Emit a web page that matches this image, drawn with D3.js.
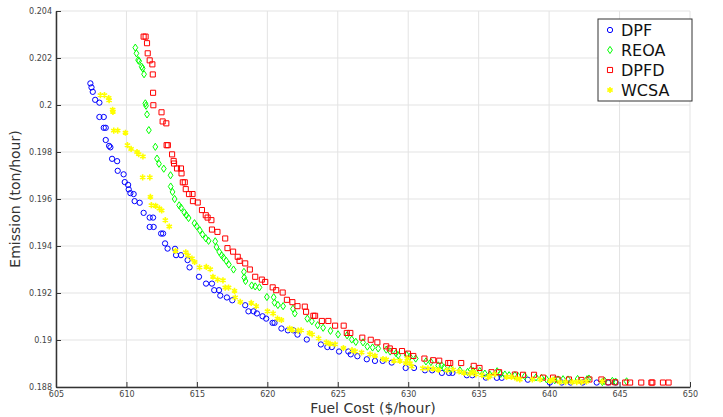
<!DOCTYPE html>
<html>
<head>
<meta charset="utf-8">
<script src="https://cdn.jsdelivr.net/npm/d3@7"></script>
<style>
  body { margin: 0; background: #fff; }
  .chart text { font-family: "DejaVu Sans", sans-serif; }
  .tick text { fill: #444; font-size: 8px; }
</style>
</head>
<body>
<div class="chart"></div>
<script>
// Pareto fronts: fuel cost vs emission

var xTicks = [605, 610, 615, 620, 625, 630, 635, 640, 645, 650];
var yTicks = [0.188, 0.19, 0.192, 0.194, 0.196, 0.198, 0.2, 0.202, 0.204];
var seriesNames = ["DPF", "REOA", "DPFD", "WCSA"];

var dpfCost = [607.44,607.52,607.61,607.78,608.08,608.08,608.39,608.39,608.53,608.53,
  608.77,608.86,608.98,609.34,609.38,609.80,609.88,610.12,610.16,610.28,
  610.51,610.58,610.94,611.22,611.65,611.89,611.65,611.93,612.46,612.60,
  612.74,612.92,613.45,613.52,613.87,614.34,614.48,615.15,615.65,616.07,
  616.23,616.57,616.66,617.13,617.51,618.43,618.66,619.02,619.26,619.66,
  619.92,620.37,620.51,621.00,621.46,621.85,622.14,622.80,623.80,624.26,
  624.58,625.09,625.75,625.92,626.39,627.06,627.64,628.19,628.83,629.82,
  630.41,631.19,631.70,632.39,632.89,633.14,634.16,634.55,635.51,636.29,
  636.64,638.49,640.05,640.90,641.53,642.38,643.38,644.19,644.72];
var dpfEmission = [0.20092,0.20075,0.20056,0.20022,0.20010,0.19949,0.19949,0.19903,0.19903,0.19851,
  0.19826,0.19820,0.19771,0.19761,0.19720,0.19705,0.19672,0.19660,0.19641,0.19625,
  0.19621,0.19591,0.19584,0.19541,0.19521,0.19521,0.19481,0.19481,0.19453,0.19453,
  0.19411,0.19389,0.19388,0.19361,0.19361,0.19340,0.19309,0.19269,0.19240,0.19240,
  0.19212,0.19212,0.19189,0.19181,0.19169,0.19148,0.19122,0.19122,0.19113,0.19101,
  0.19091,0.19073,0.19073,0.19049,0.19041,0.19041,0.19023,0.19002,0.18981,0.18970,
  0.18970,0.18951,0.18951,0.18939,0.18931,0.18918,0.18911,0.18911,0.18904,0.18881,
  0.18881,0.18871,0.18871,0.18860,0.18860,0.18860,0.18850,0.18850,0.18840,0.18839,
  0.18839,0.18831,0.18819,0.18819,0.18819,0.18819,0.18819,0.18819,0.18819];

var reoaCost = [610.63,610.71,610.83,610.90,611.08,611.15,611.25,611.34,611.39,611.46,
  611.59,612.05,612.17,612.31,612.65,613.13,613.14,613.27,613.42,613.74,
  613.88,614.11,614.25,614.41,614.83,614.99,615.21,615.40,615.63,615.83,
  616.30,616.39,616.59,616.76,616.89,617.08,617.27,617.60,618.34,618.36,
  618.45,618.89,619.14,619.44,619.97,620.45,620.51,620.75,621.12,621.82,
  621.95,622.84,623.16,623.57,623.96,624.48,625.02,625.66,625.99,626.28,
  626.79,627.10,627.47,627.87,628.44,628.72,629.13,629.29,629.89,630.12,
  630.53,631.26,631.61,632.13,632.37,632.53,633.01,633.67,634.21,634.45,
  634.61,635.08,635.44,635.79,636.31,636.57,636.86,637.16,637.57,637.80,
  638.27,639.07,639.46,639.81,640.40,640.63,640.99,641.34,642.02,642.69,
  642.83,643.78,643.94,644.49,644.72,645.50];
var reoaEmission = [0.20244,0.20220,0.20191,0.20187,0.20163,0.20156,0.20131,0.20007,0.19997,0.19960,
  0.19893,0.19822,0.19772,0.19750,0.19729,0.19701,0.19653,0.19630,0.19600,0.19573,
  0.19563,0.19543,0.19531,0.19519,0.19497,0.19484,0.19467,0.19449,0.19433,0.19422,
  0.19420,0.19396,0.19375,0.19360,0.19351,0.19337,0.19321,0.19300,0.19290,0.19266,
  0.19251,0.19232,0.19228,0.19224,0.19183,0.19182,0.19159,0.19149,0.19144,0.19133,
  0.19113,0.19091,0.19080,0.19063,0.19052,0.19039,0.19024,0.19020,0.19002,0.18992,
  0.18990,0.18972,0.18968,0.18964,0.18959,0.18951,0.18944,0.18935,0.18936,0.18929,
  0.18921,0.18909,0.18906,0.18892,0.18892,0.18883,0.18878,0.18871,0.18864,0.18874,
  0.18868,0.18868,0.18857,0.18853,0.18867,0.18856,0.18853,0.18850,0.18850,0.18846,
  0.18846,0.18841,0.18838,0.18833,0.18829,0.18832,0.18833,0.18832,0.18834,0.18833,
  0.18836,0.18821,0.18826,0.18826,0.18823,0.18824];

var dpfdCost = [611.22,611.36,611.46,611.51,611.65,611.84,611.87,611.89,611.91,612.49,
  612.57,612.83,612.85,612.94,613.24,613.35,613.38,613.59,613.87,613.91,
  614.00,614.14,614.21,614.44,614.69,614.72,615.06,615.36,615.63,615.76,
  616.03,616.07,616.46,617.01,617.17,617.57,617.90,618.03,618.43,618.76,
  619.14,619.61,619.85,620.38,620.63,621.09,621.39,621.78,622.14,622.66,
  622.75,623.27,623.39,623.87,624.33,624.81,625.42,625.64,625.89,626.74,
  627.34,627.81,628.44,628.69,628.98,629.56,629.98,630.36,631.15,631.77,
  632.20,632.84,632.98,633.76,634.65,635.06,635.91,636.45,637.57,638.15,
  638.93,639.57,640.28,640.61,641.41,642.29,642.86,643.71,644.21,644.69,
  645.40,645.75,646.54,647.26,647.33,648.08,648.48];
var dpfdEmission = [0.20291,0.20291,0.20263,0.20220,0.20190,0.20173,0.20130,0.20052,0.19999,0.19969,
  0.19930,0.19922,0.19829,0.19829,0.19790,0.19762,0.19751,0.19730,0.19730,0.19709,
  0.19671,0.19671,0.19642,0.19621,0.19621,0.19591,0.19585,0.19553,0.19531,0.19521,
  0.19510,0.19470,0.19460,0.19432,0.19391,0.19376,0.19354,0.19337,0.19326,0.19300,
  0.19269,0.19257,0.19247,0.19224,0.19212,0.19202,0.19171,0.19161,0.19144,0.19142,
  0.19120,0.19103,0.19103,0.19081,0.19081,0.19061,0.19061,0.19030,0.19030,0.19010,
  0.19001,0.18990,0.18973,0.18964,0.18953,0.18953,0.18942,0.18932,0.18921,0.18914,
  0.18912,0.18902,0.18902,0.18902,0.18890,0.18881,0.18863,0.18863,0.18853,0.18852,
  0.18852,0.18840,0.18840,0.18832,0.18832,0.18830,0.18832,0.18832,0.18820,0.18820,
  0.18819,0.18819,0.18819,0.18819,0.18819,0.18819,0.18819];

var wcsaCost = [608.15,608.44,608.74,608.77,609.02,609.04,609.10,609.38,609.93,610.07,
  610.33,610.75,610.87,611.17,611.15,611.66,611.70,611.77,612.07,612.34,
  612.50,612.76,613.04,613.48,614.21,614.37,614.65,614.84,615.19,615.67,
  615.95,616.14,616.47,616.85,617.01,617.25,617.67,617.72,618.08,618.86,
  619.21,620.01,620.41,620.72,621.00,621.58,621.76,622.19,622.40,622.99,
  623.18,623.64,624.19,624.45,624.81,625.40,626.01,626.23,626.69,627.29,
  627.64,628.21,628.44,628.99,629.41,629.83,629.93,630.12,630.24,631.03,
  631.40,631.77,632.14,632.77,633.19,633.61,633.95,634.38,634.61,634.80,
  635.23,635.67,635.79,636.15,636.98,637.33,637.69,637.92,638.81,639.36,
  640.05,640.28,640.75,641.17,641.65,641.96,642.29,642.65,643.77];
var wcsaEmission = [0.20042,0.20042,0.20030,0.20020,0.19980,0.19971,0.19891,0.19891,0.19882,0.19829,
  0.19813,0.19800,0.19791,0.19781,0.19692,0.19692,0.19609,0.19574,0.19571,0.19560,
  0.19551,0.19510,0.19483,0.19380,0.19373,0.19360,0.19347,0.19332,0.19309,0.19311,
  0.19301,0.19269,0.19257,0.19254,0.19223,0.19223,0.19209,0.19181,0.19162,0.19158,
  0.19144,0.19122,0.19113,0.19091,0.19085,0.19049,0.19044,0.19040,0.19041,0.19030,
  0.19024,0.19007,0.18990,0.18984,0.18982,0.18966,0.18957,0.18952,0.18947,0.18939,
  0.18933,0.18919,0.18917,0.18912,0.18911,0.18902,0.18921,0.18901,0.18888,0.18880,
  0.18879,0.18878,0.18873,0.18871,0.18874,0.18866,0.18860,0.18857,0.18864,0.18854,
  0.18850,0.18841,0.18846,0.18854,0.18843,0.18843,0.18836,0.18832,0.18832,0.18832,
  0.18826,0.18832,0.18821,0.18821,0.18821,0.18821,0.18821,0.18823,0.18823];

var svgWidth = 723;
var svgHeight = 417;
var margin = { top: 11, right: 33, bottom: 30, left: 56 };
var width = svgWidth - margin.left - margin.right;
var height = svgHeight - margin.top - margin.bottom;

var svg = d3.select(".chart")
  .append("svg")
  .attr("width", svgWidth)
  .attr("height", svgHeight);

var chartGroup = svg.append("g")
  .attr("transform", `translate(${margin.left}, ${margin.top})`);

var xScale = d3.scaleLinear().domain([605, 650]).range([0, width]);
var yScale = d3.scaleLinear().domain([0.188, 0.204]).range([height, 0]);

// grid
chartGroup.append("g").selectAll("line")
  .data(xTicks)
  .enter()
  .append("line")
  .attr("x1", d => xScale(d)).attr("x2", d => xScale(d))
  .attr("y1", 0).attr("y2", height)
  .attr("stroke", "#e3e3e3");

chartGroup.append("g").selectAll("line")
  .data(yTicks)
  .enter()
  .append("line")
  .attr("x1", 0).attr("x2", width)
  .attr("y1", d => yScale(d)).attr("y2", d => yScale(d))
  .attr("stroke", "#e3e3e3");

// axes
var bottomAxis = d3.axisBottom(xScale).tickValues(xTicks).tickSizeInner(-5).tickSizeOuter(0).tickPadding(4).tickFormat(d3.format("d"));
var leftAxis = d3.axisLeft(yScale).tickValues(yTicks).tickSizeInner(-5).tickSizeOuter(0).tickPadding(4).tickFormat(d => String(+d.toFixed(3)));

var xAxis = chartGroup.append("g")
  .attr("transform", `translate(0, ${height})`)
  .call(bottomAxis);
var yAxis = chartGroup.append("g")
  .call(leftAxis);

[xAxis, yAxis].forEach(function (ax) {
  ax.select(".domain").attr("stroke", "#333").attr("stroke-width", 1.5);
  ax.selectAll(".tick line").attr("stroke", "#333");
  ax.selectAll(".tick text").style("font-size", "8px").attr("fill", "#444");
});

// axis labels
chartGroup.append("text")
  .attr("x", width / 2)
  .attr("y", height + 26)
  .attr("text-anchor", "middle")
  .style("font-size", "14px")
  .attr("fill", "#333")
  .text("Fuel Cost ($/hour)");

chartGroup.append("text")
  .attr("transform", "rotate(-90)")
  .attr("x", -height / 2)
  .attr("y", -margin.left + 20)
  .attr("text-anchor", "middle")
  .style("font-size", "14px")
  .attr("fill", "#333")
  .text("Emission (ton/hour)");

// markers
var circlePath = d3.symbol().type(d3.symbolCircle).size(22)();
var diamondPath = "M0,-3.6L2.4,0L0,3.6L-2.4,0Z";
var squarePath = d3.symbol().type(d3.symbolSquare).size(26)();
var starPath = d3.symbol().type(d3.symbolAsterisk).size(26)();

var series = [
  { name: seriesNames[0], cost: dpfCost, emission: dpfEmission, color: "#0000ff", path: circlePath, width: 1 },
  { name: seriesNames[1], cost: reoaCost, emission: reoaEmission, color: "#00ff00", path: diamondPath, width: 1 },
  { name: seriesNames[2], cost: dpfdCost, emission: dpfdEmission, color: "#ff0000", path: squarePath, width: 1 },
  { name: seriesNames[3], cost: wcsaCost, emission: wcsaEmission, color: "#ffff00", path: starPath, width: 1.6 }
];

series.forEach(function (s) {
  chartGroup.append("g").selectAll("path")
    .data(s.cost.map((c, i) => [c, s.emission[i]]))
    .enter()
    .append("path")
    .attr("d", s.path)
    .attr("transform", d => `translate(${xScale(d[0])}, ${yScale(d[1])})`)
    .attr("fill", "none")
    .attr("stroke", s.color)
    .attr("stroke-width", s.width);
});

// legend
var legend = svg.append("g")
  .attr("transform", "translate(598, 19)");

legend.append("rect")
  .attr("width", 94)
  .attr("height", 82)
  .attr("fill", "#fff")
  .attr("stroke", "#333");

var legendItem = legend.selectAll(".item")
  .data(series)
  .enter()
  .append("g")
  .attr("class", "item")
  .attr("transform", (d, i) => `translate(12, ${11 + i * 20})`);

legendItem.append("path")
  .attr("d", d => d.path)
  .attr("fill", "none")
  .attr("stroke", d => d.color)
  .attr("stroke-width", d => d.width);

legendItem.append("text")
  .attr("x", 11)
  .attr("y", 6)
  .style("font-size", "16px")
  .attr("fill", "#111")
  .text(d => d.name);
</script>
</body>
</html>
